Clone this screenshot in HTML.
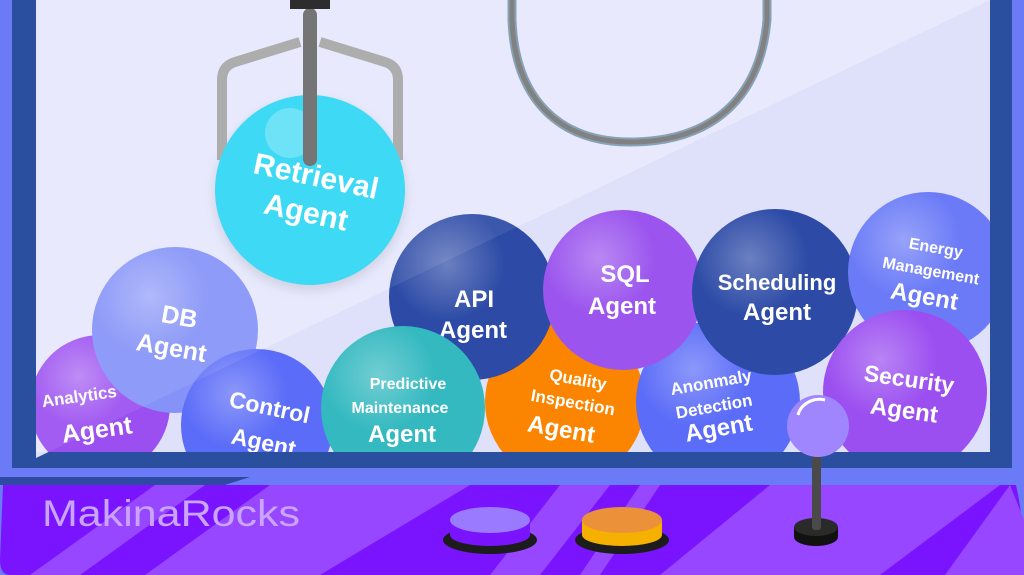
<!DOCTYPE html>
<html><head><meta charset="utf-8"><style>
html,body{margin:0;padding:0;width:1024px;height:575px;overflow:hidden;background:#6b7bf7}
svg{display:block}
text{font-family:"Liberation Sans","DejaVu Sans",sans-serif;font-weight:bold;fill:#fff;text-anchor:middle}
</style></head><body>
<svg width="1024" height="575" viewBox="0 0 1024 575" xmlns="http://www.w3.org/2000/svg">
<defs>
<radialGradient id="hl" cx="0.35" cy="0.3" r="0.35">
<stop offset="0" stop-color="#fff" stop-opacity="0.3"/><stop offset="1" stop-color="#fff" stop-opacity="0"/>
</radialGradient>
<clipPath id="glass"><rect x="36" y="0" width="954" height="452"/></clipPath>
<filter id="sh" x="-30%" y="-30%" width="160%" height="160%"><feGaussianBlur stdDeviation="6"/></filter>
</defs>
<rect width="1024" height="575" fill="#6b7bf7"/>
<rect x="12" y="0" width="1000" height="468" fill="#2a4f9e"/>
<rect x="36" y="0" width="954" height="452" fill="#e6e8fd"/>
<polygon points="36,458 990,0 990,452 36,452" fill="#dfe1fb"/>
<path d="M512,0 L512,20 C515,100 560,142 630,142 C710,142 760,100 767,20 L767,0" fill="none" stroke="#7d9bb0" stroke-width="9"/>
<path d="M512,0 L512,20 C515,100 560,142 630,142 C710,142 760,100 767,20 L767,0" fill="none" stroke="#777" stroke-width="5"/>
<g clip-path="url(#glass)">
<circle cx="310" cy="195" r="95" fill="#000" opacity="0.12" filter="url(#sh)"/>
<path d="M300,42 L235,62 Q222,66 222,80 L222,160" fill="none" stroke="#a6a6a6" stroke-width="10" stroke-linejoin="round"/>
<path d="M320,42 L385,62 Q398,66 398,80 L398,160" fill="none" stroke="#a6a6a6" stroke-width="10" stroke-linejoin="round"/>
<circle cx="310" cy="190" r="95" fill="#2ed7f5"/>
<circle cx="290" cy="133" r="25" fill="#fff" opacity="0.25"/>
<rect x="303" y="8" width="14" height="158" rx="7" fill="#6a6a6a"/>
<rect x="290" y="0" width="40" height="9" fill="#1c1c1c"/>
<text transform="translate(314,186) rotate(12)" font-size="30">Retrieval</text>
<text transform="translate(304,222) rotate(12)" font-size="30">Agent</text>

<circle cx="100" cy="405" r="70" fill="#9b4ff0"/><circle cx="100" cy="405" r="70" fill="url(#hl)"/>
<text transform="translate(80,402) rotate(-8)" font-size="17">Analytics</text>
<text transform="translate(98,438) rotate(-8)" font-size="25">Agent</text>

<circle cx="175" cy="330" r="83" fill="#8593f8"/><circle cx="175" cy="330" r="83" fill="url(#hl)"/>
<text transform="translate(178,325) rotate(10)" font-size="25">DB</text>
<text transform="translate(170,356) rotate(10)" font-size="25">Agent</text>

<circle cx="257" cy="425" r="76" fill="#5b6cf8"/><circle cx="257" cy="425" r="76" fill="url(#hl)"/>
<text transform="translate(268,415) rotate(12)" font-size="23">Control</text>
<text transform="translate(262,450) rotate(12)" font-size="23">Agent</text>

<circle cx="565" cy="402" r="80" fill="#fb8500"/>
<text transform="translate(577,385) rotate(10)" font-size="17">Quality</text>
<text transform="translate(572,408) rotate(10)" font-size="17">Inspection</text>
<text transform="translate(560,437) rotate(10)" font-size="24">Agent</text>

<circle cx="472" cy="297" r="83" fill="#2c4aa6"/><circle cx="472" cy="297" r="83" fill="url(#hl)"/>
<text x="474" y="307" font-size="24">API</text>
<text x="473" y="338" font-size="24">Agent</text>

<circle cx="403" cy="408" r="82" fill="#34b9c0"/><circle cx="403" cy="408" r="82" fill="url(#hl)"/>
<text x="408" y="389" font-size="16">Predictive</text>
<text x="400" y="413" font-size="16">Maintenance</text>
<text x="402" y="442" font-size="24">Agent</text>

<circle cx="718" cy="402" r="82" fill="#5b6cf8"/><circle cx="718" cy="402" r="82" fill="url(#hl)"/>
<text transform="translate(712,388) rotate(-10)" font-size="17">Anonmaly</text>
<text transform="translate(715,412) rotate(-10)" font-size="17">Detection</text>
<text transform="translate(720,436) rotate(-10)" font-size="24">Agent</text>

<circle cx="623" cy="290" r="80" fill="#9b55ee"/><circle cx="623" cy="290" r="80" fill="url(#hl)"/>
<text x="625" y="282" font-size="24">SQL</text>
<text x="622" y="314" font-size="24">Agent</text>

<circle cx="775" cy="292" r="83" fill="#2c4aa6"/><circle cx="775" cy="292" r="83" fill="url(#hl)"/>
<text x="777" y="290" font-size="22">Scheduling</text>
<text x="777" y="320" font-size="24">Agent</text>

<circle cx="928" cy="272" r="80" fill="#6b7bf7"/><circle cx="928" cy="272" r="80" fill="url(#hl)"/>
<text transform="translate(935,253) rotate(10)" font-size="16">Energy</text>
<text transform="translate(930,276) rotate(10)" font-size="16">Management</text>
<text transform="translate(923,304) rotate(10)" font-size="24">Agent</text>

<circle cx="905" cy="392" r="82" fill="#9b4ff0"/><circle cx="905" cy="392" r="82" fill="url(#hl)"/>
<text transform="translate(908,387) rotate(8)" font-size="23">Security</text>
<text transform="translate(903,418) rotate(8)" font-size="24">Agent</text>
<polygon points="36,458 990,0 36,0" fill="#fff" opacity="0.08"/>
</g>
<polygon points="0,477 250,477 225,485 0,485" fill="#2f4aa3"/>
<path d="M3,485 L1016,485 Q1024,520 1024,560 Q1024,575 1010,575 L10,575 Q0,575 0,560 Z" fill="#7a14fe"/>
<g fill="#9747ff">
<polygon points="30,575 155,485 205,485 80,575"/>
<polygon points="145,575 270,485 470,485 320,575"/>
<polygon points="490,575 560,485 610,485 540,575"/>
<polygon points="580,575 640,485 660,485 600,575"/>
<polygon points="660,575 770,485 1000,485 880,575"/>
<polygon points="945,575 1010,485 1024,520 1024,575"/>
</g>
<text x="42" y="526" font-size="37" textLength="258" lengthAdjust="spacingAndGlyphs" style="fill:#c9a5ff;font-weight:normal;text-anchor:start">MakinaRocks</text>
<ellipse cx="490" cy="540" rx="47" ry="14" fill="#1c1c1c"/>
<path d="M450,520 L450,535 A40,11 0 0 0 530,535 L530,520 Z" fill="#7a14fe"/>
<ellipse cx="490" cy="520" rx="40" ry="13" fill="#9a7bff"/>
<ellipse cx="622" cy="540" rx="47" ry="14" fill="#1c1c1c"/>
<path d="M582,520 L582,535 A40,11 0 0 0 662,535 L662,520 Z" fill="#f6b000"/>
<ellipse cx="622" cy="520" rx="40" ry="13" fill="#ea913a"/>
<ellipse cx="816" cy="537" rx="22" ry="9" fill="#111"/>
<rect x="794" y="527" width="44" height="10" fill="#111"/>
<ellipse cx="816" cy="527" rx="22" ry="9" fill="#2a2a2a"/>
<rect x="812" y="445" width="9" height="85" rx="3" fill="#4a4a4a"/>
<ellipse cx="818" cy="426" rx="31" ry="31" fill="#9f86ff"/>
<path d="M798,415 A22,20 0 0 1 825,400" fill="none" stroke="#fff" stroke-width="3"/>
</svg>
</body></html>
